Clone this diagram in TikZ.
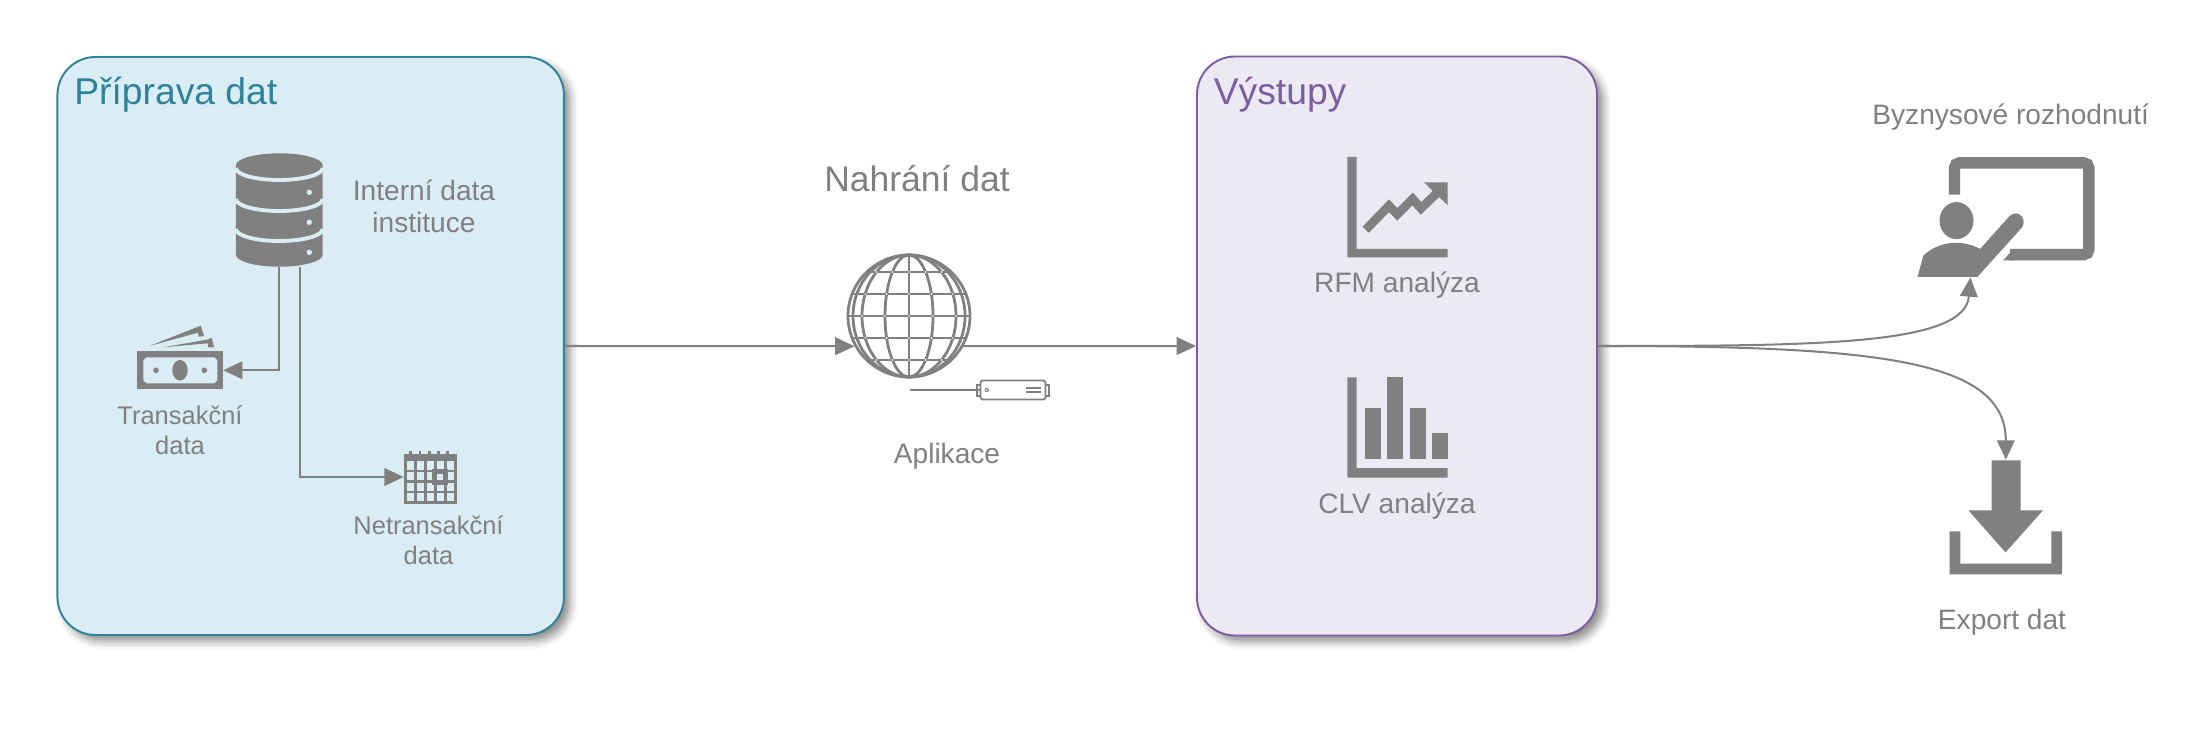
\documentclass[tikz,border=0pt]{standalone}
\usepackage{fontspec}
\setmainfont{Liberation Sans}
\usetikzlibrary{arrows.meta,positioning,shadows,shadows.blur}

\definecolor{prepfill}{HTML}{DBEDF4}
\definecolor{prepline}{HTML}{2E8299}
\definecolor{outfill}{HTML}{ECE9F2}
\definecolor{outline}{HTML}{7B5EA0}
\definecolor{icongray}{HTML}{808080}

\tikzset{
  panel/.style={rectangle,draw,line width=1.1pt,rounded corners=0.76cm,inner sep=0pt,
    blur shadow={shadow xshift=3.5pt,shadow yshift=-3.5pt,shadow blur radius=4.5pt,shadow opacity=45}},
  iconspot/.style 2 args={rectangle,inner sep=0pt,minimum width=#1*0.02cm,minimum height=#2*0.02cm},
  conn/.style={draw=icongray,line width=1.15pt,-{Triangle[length=11pt,width=10pt]}},
  lbl/.style={text=icongray,anchor=base,font=\fontsize{16}{18.5}\selectfont},
  sublbl/.style={text=icongray,font=\fontsize{14.5}{17}\selectfont},
  headlbl/.style={anchor=base west,inner sep=0pt,font=\fontsize{21.2}{24}\selectfont}
}

\begin{document}
\begin{tikzpicture}
  [x=0.02cm,y=-0.02cm,every node/.style={align=center}]

  \useasboundingbox (0,0) rectangle (2205,746);

  % the two panels
  \node[panel,draw=prepline,fill=prepfill,minimum width=506.5*0.02cm,minimum height=578*0.02cm] (prep) at (310.7,346) {};
  \node[panel,draw=outline,fill=outfill,minimum width=400*0.02cm,minimum height=579*0.02cm] (outp) at (1397,346) {};
  \node[headlbl,text=prepline] (preptitle) at (74,105) {Příprava dat};
  \node[headlbl,text=outline] (outtitle) at (1213.5,105) {Výstupy};

  % places of the icons
  \node[iconspot={87}{113}] (dbase) at (279.3,210) {};
  \node[iconspot={85.4}{38}] (cash) at (180,370.3) {};
  \node[iconspot={52}{52}] (cal) at (430,477) {};
  \node[circle,inner sep=0pt,minimum size=124*0.02cm] (globe) at (909,316) {};
  \node[rectangle,draw=icongray,line width=1.1pt,inner sep=0pt,rounded corners=1pt,
    minimum width=65*0.02cm,minimum height=19*0.02cm] (appl) at (1013,390) {};
  \coordinate (applstub) at (910,390);
  \node[iconspot={177}{120}] (board) at (2006,217) {};
  \node[iconspot={113}{114}] (export) at (2005.8,517) {};

  % draw the connectors
  \draw[conn] (dbase.south) |- (cash.east);
  \draw[conn] ([xshift=20.7*0.02cm]dbase.south) |- (cal.west);
  \draw[conn] (prep.east) -- (globe.209);
  \draw[conn] (globe.331) -- (outp.west);
  \draw[conn] (outp.east) .. controls (1820,346) and (1965,345) .. ([xshift=-35.6*0.02cm]board.south);
  \draw[conn] (outp.east) .. controls (1880,346) and (2005.8,360) .. (export.north);
  \draw[draw=icongray,line width=1.1pt] (applstub) -- (appl.west);

  % database
  \fill[icongray] (235.9,165.3) -- (235.9,254.7) arc[start angle=180,end angle=0,x radius=43.4,y radius=12]
    -- (322.7,165.3) arc[start angle=0,end angle=-180,x radius=43.4,y radius=12] -- cycle;
  \foreach \liney in {168,199,229}
    \draw[prepfill,line width=2.2pt] (235.9,\liney) arc[start angle=180,end angle=0,x radius=43.4,y radius=12];
  \foreach \dity in {192.3,222.3,252.3}
    \fill[prepfill] (309.3,\dity) circle[radius=2.7];

  % banknote
  \fill[icongray] (137.3,351.3) rectangle (222.7,389.3);
  \fill[prepfill] (146.3,357.3) -- (214.3,357.3) -- (217.3,360.3) -- (217.3,380.3) -- (214.3,383.3)
    -- (146.3,383.3) -- (143.3,380.3) -- (143.3,360.3) -- cycle;
  \fill[icongray] (180,370.3) ellipse[x radius=7.7,y radius=10.3];
  \fill[icongray] (156,370.3) circle[radius=2.8] (204.3,370.3) circle[radius=2.8];
  \fill[icongray] (149.3,346) -- (200.7,325.7) -- (204,336) -- (198.7,336.7) -- (198,332.7) -- cycle;
  \fill[icongray] (163.3,347.3) -- (207.7,339.5) -- (211.7,337.7) -- (214,347.3) -- (208.3,347.3) -- (207.7,343.3) -- cycle;

  % calendar
  \begin{scope}[draw=icongray,line width=1.7pt]
    \draw (405.5,455) rectangle (455.5,502.5);
    \draw[line width=3pt] (405.5,458.5) -- (455.5,458.5);
    \foreach \gridx in {415.5,425.5,435.5,445.5}
      \draw[line width=1.3pt] (\gridx,461) -- (\gridx,502);
    \foreach \gridy in {471,481.5,492}
      \draw[line width=1.3pt] (405.5,\gridy) -- (455.5,\gridy);
    \foreach \ringx in {410.3,420,429.7,438.7,447.7}
      \draw[line width=1.5pt] (\ringx,451.5) -- (\ringx,456);
    \draw[line width=3pt] (434.5,471.5) rectangle (445.5,482.5);
  \end{scope}

  % globe
  \begin{scope}[draw=icongray,line width=1.6pt]
    \draw (909,316) circle[radius=61];
    \draw (909,255) -- (909,377);
    \foreach \spanx in {24,47,56}
      \draw (909,316) ellipse[x radius=\spanx,y radius=61];
    \begin{scope}
      \clip (909,316) circle[radius=61];
      \foreach \dy in {-44,-22,0,22,44}
        \draw (840,316+\dy) -- (980,316+\dy);
    \end{scope}
    \foreach \dy in {-44,-22,0,22,44}
      \foreach \spanx in {0,24,47} {
        \pgfmathsetmacro{\gx}{\spanx*sqrt(1-(\dy/61)^2)}
        \fill[white] (909+\gx,316+\dy) circle[radius=0.9] (909-\gx,316+\dy) circle[radius=0.9];
      }
  \end{scope}

  % the box of the application
  \draw[icongray,line width=1pt] (977,385) rectangle (980.5,396) (1045.5,385) rectangle (1049,396);
  \fill[icongray] (986.7,390) circle[radius=2.2];
  \fill[white] (986.7,390) circle[radius=1];
  \draw[icongray,line width=1pt] (1026,388) -- (1041,388) (1026,392) -- (1041,392);

  % charts
  \fill[icongray] (1347.3,157) -- (1356.7,157) -- (1356.7,248.8) -- (1447.7,248.8) -- (1447.7,257.5) -- (1347.3,257.5) -- cycle;
  \draw[icongray,line width=5pt,miter limit=4] (1365.7,229.8) -- (1389,205.7) -- (1397.3,214.4) -- (1412.7,199) -- (1421,208.4) -- (1438,192);
  \fill[icongray] (1424,182.3) -- (1447.7,182.3) -- (1447.7,205.3) -- cycle;

  \fill[icongray] (1347.3,377.3) -- (1356.7,377.3) -- (1356.7,468.2) -- (1447.7,468.2) -- (1447.7,477.7) -- (1347.3,477.7) -- cycle;
  \foreach \barx/\bary in {1365.3/408.5,1387.3/377.3,1409.5/408.5,1431.7/433.4}
    \fill[icongray] (\barx,\bary) rectangle (\barx+16,459);

  % board with the person
  \draw[icongray,line width=6.5pt,rounded corners=5*0.02cm] (1954.5,194.7) -- (1954.5,162.9) -- (2088.8,162.9) -- (2088.8,254.6) -- (2010,254.6);
  \fill[icongray] (2003,260.5) -- (2013.6,248.7) -- (2013.6,260.5) -- cycle;
  \fill[icongray] (1956.5,220.6) ellipse[x radius=17,y radius=18.5];
  \fill[icongray] (1917.5,277) -- (1923.3,255.7) .. controls (1932,247) and (1945,242.8) .. (1955,242.8)
    .. controls (1965,242.8) and (1973,245) .. (1980,249) -- (2009.7,216) .. controls (2014,212) and (2019,213) .. (2022,216.5)
    .. controls (2024.5,220) and (2024,225) .. (2021.5,228) -- (1977.3,277) -- cycle;

  % export
  \fill[icongray] (1991.6,460.3) -- (2020.5,460.3) -- (2020.5,510.3) -- (2043,510.3) -- (2005.5,552.4) -- (1968.4,510.3) -- (1991.6,510.3) -- cycle;
  \fill[icongray] (1949.5,531.3) -- (1960.3,531.3) -- (1960.3,563.5) -- (2051.4,563.5) -- (2051.4,531.3) -- (2062.2,531.3) -- (2062.2,574.3) -- (1949.5,574.3) -- cycle;

  % labels
  \node[lbl] (lbldb) at (424,232.6) {Interní data \\ instituce};
  \node[sublbl,below=0.2cm of cash] (lblcash) {Transakční \\ data};
  \node[sublbl,below=0.13cm of cal,xshift=-1.5*0.02cm] (lblcal) {Netransakční \\ data};
  \node[lbl,font=\fontsize{20.2}{23}\selectfont] (lblupload) at (917,191.5) {Nahrání dat};
  \node[lbl] (lblappl) at (947,463) {Aplikace};
  \node[lbl] (lblrfm) at (1397,293) {RFM analýza};
  \node[lbl] (lblclv) at (1397,514) {CLV analýza};
  \node[lbl] (lblboard) at (2010.7,125) {Byznysové rozhodnutí};
  \node[lbl] (lblexport) at (2002,629.5) {Export dat};

\end{tikzpicture}
\end{document}
